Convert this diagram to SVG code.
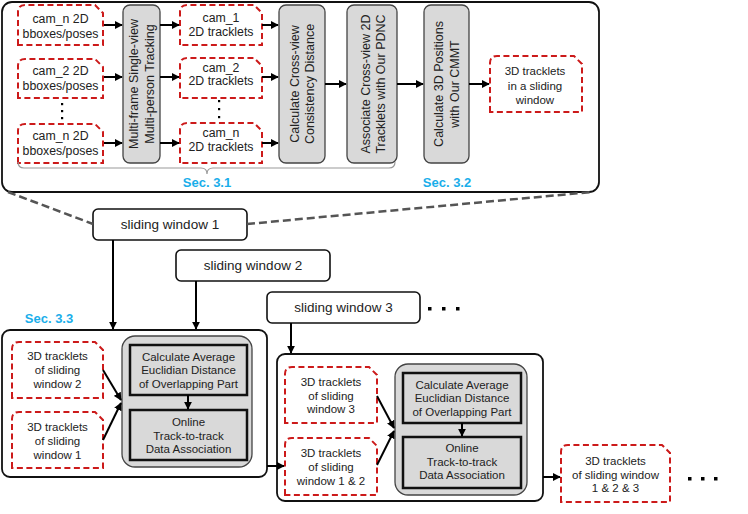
<svg xmlns="http://www.w3.org/2000/svg" width="748" height="514" viewBox="0 0 748 514">
<defs>
<marker id="ah" viewBox="0 0 10 10" refX="9" refY="5" markerWidth="4" markerHeight="4" orient="auto" markerUnits="strokeWidth">
<path d="M0,0 L10,5 L0,10 z" fill="#000"/>
</marker>
<style>
text{font-family:"Liberation Sans",Arial,sans-serif;fill:#222;text-anchor:middle;dominant-baseline:central}
.t12{font-size:12.3px}
.t11{font-size:11.5px}
.t13{font-size:13.5px}
.rot{font-size:12.5px}
.sec{font-size:13px;font-weight:bold;fill:#1aaeea}
.red{fill:#fff;stroke:#cc1a1a;stroke-width:2;stroke-dasharray:6,3.5}
.gray{fill:#d9d9d9;stroke:#444;stroke-width:1.3}
.inner{fill:#d9d9d9;stroke:#111;stroke-width:2.5}
.cont{fill:#fff;stroke:#111;stroke-width:1.8}
.sw{fill:#fff;stroke:#111;stroke-width:1.6}
.arr{stroke:#000;stroke-width:2;fill:none;marker-end:url(#ah)}
.dash{stroke:#555;stroke-width:2.5;stroke-dasharray:8,4;fill:none}
.brace{stroke:#999;stroke-width:1.2;fill:none}
</style>
</defs>

<!-- containers -->
<g id="stage1-container"><rect class="cont" x="2" y="2" width="597" height="190" rx="10"/></g>
<g id="stage2-container"><rect class="cont" x="2" y="330" width="265" height="147" rx="8"/></g>
<g id="stage3-container"><rect class="cont" x="277" y="354" width="266" height="147" rx="8"/></g>

<!-- input boxes -->
<g id="in1"><path class="red" d="M18,45 L18,12 Q18,5 25,5 L95,5 L103,13 L103,45 Z"/>
<text class="t12" x="60.5" y="19">cam_n 2D</text><text class="t12" x="60.5" y="34">bboxes/poses</text></g>
<g id="in2"><path class="red" d="M18,98 L18,66 Q18,59 25,59 L95,59 L103,67 L103,98 Z"/>
<text class="t12" x="60.5" y="71">cam_2 2D</text><text class="t12" x="60.5" y="86">bboxes/poses</text></g>
<g id="in3"><path class="red" d="M18,163 L18,131 Q18,124 25,124 L95,124 L103,132 L103,163 Z"/>
<text class="t12" x="60.5" y="136">cam_n 2D</text><text class="t12" x="60.5" y="151">bboxes/poses</text></g>
<g id="dots1" fill="#000"><rect x="61" y="103" width="2.2" height="2.2"/><rect x="61" y="110" width="2.2" height="2.2"/><rect x="61" y="117" width="2.2" height="2.2"/></g>

<!-- tracking -->
<g id="tracking"><rect class="gray" x="123" y="5" width="37" height="158" rx="7"/>
<g transform="translate(141.5,84) rotate(-90)"><text class="rot" x="0" y="-8">Multi-frame Single-view</text><text class="rot" x="0" y="8">Multi-person Tracking</text></g></g>

<!-- tracklet boxes -->
<g id="tr1"><path class="red" d="M180,45 L180,12 Q180,5 187,5 L254,5 L262,13 L262,45 Z"/>
<text class="t12" x="221" y="18">cam_1</text><text class="t12" x="221" y="32">2D tracklets</text></g>
<g id="tr2"><path class="red" d="M180,98 L180,65 Q180,58 187,58 L254,58 L262,66 L262,98 Z"/>
<text class="t12" x="221" y="68">cam_2</text><text class="t12" x="221" y="81">2D tracklets</text></g>
<g id="tr3"><path class="red" d="M180,163 L180,130 Q180,123 187,123 L254,123 L262,131 L262,163 Z"/>
<text class="t12" x="221" y="133">cam_n</text><text class="t12" x="221" y="147">2D tracklets</text></g>
<g id="dots2" fill="#000"><rect x="218" y="100" width="2.2" height="2.2"/><rect x="218" y="108" width="2.2" height="2.2"/><rect x="218" y="116" width="2.2" height="2.2"/></g>

<g id="crossview"><rect class="gray" x="279" y="5" width="46" height="158" rx="7"/>
<g transform="translate(302,84) rotate(-90)"><text class="rot" x="0" y="-7.5">Calculate Cross-view</text><text class="rot" x="0" y="7.5">Consistency Distance</text></g></g>
<g id="associate"><rect class="gray" x="347" y="5" width="50" height="158" rx="7"/>
<g transform="translate(373,84) rotate(-90)"><text class="rot" x="0" y="-7.5">Associate Cross-view 2D</text><text class="rot" x="0" y="7.5">Tracklets with Our PDNC</text></g></g>
<g id="calc3d"><rect class="gray" x="424" y="5" width="45" height="158" rx="7"/>
<g transform="translate(446.5,84) rotate(-90)"><text class="rot" x="0" y="-8">Calculate 3D Positions</text><text class="rot" x="0" y="8">with Our CMMT</text></g></g>

<g id="out3d"><path class="red" d="M490,112 L490,63 Q490,56 497,56 L574,56 L582,64 L582,112 Z"/>
<text class="t11" x="535" y="71">3D tracklets</text><text class="t11" x="535" y="86">in a sliding</text><text class="t11" x="535" y="100">window</text></g>

<g id="brace"><path class="brace" d="M18,162 Q18,168 24,168 L201,168 Q207,168 207,174 Q207,168 213,168 L389,168 Q395,168 395,162"/></g>
<text class="sec" x="207" y="182">Sec. 3.1</text>
<text class="sec" x="447" y="182">Sec. 3.2</text>
<text class="sec" x="49" y="318">Sec. 3.3</text>

<!-- sliding windows -->
<g id="sw1"><rect class="sw" x="93" y="209" width="154" height="31" rx="5"/><text class="t13" x="170" y="224.5">sliding window 1</text></g>
<g id="sw2"><rect class="sw" x="176" y="250" width="154" height="31" rx="5"/><text class="t13" x="253" y="265.5">sliding window 2</text></g>
<g id="sw3"><rect class="sw" x="267" y="292" width="153" height="31" rx="5"/><text class="t13" x="343.5" y="307.5">sliding window 3</text></g>
<g id="dots3" fill="#000"><rect x="428" y="307" width="3.5" height="3.5"/><rect x="442" y="307" width="3.5" height="3.5"/><rect x="456" y="307" width="3.5" height="3.5"/></g>

<!-- stage 2 -->
<g id="a2"><path class="red" d="M12,398 L12,349 Q12,342 19,342 L95,342 L103,350 L103,398 Z"/>
<text class="t11" x="57.5" y="356">3D tracklets</text><text class="t11" x="57.5" y="370">of sliding</text><text class="t11" x="57.5" y="384">window 2</text></g>
<g id="b2"><path class="red" d="M12,468 L12,419 Q12,412 19,412 L95,412 L103,420 L103,468 Z"/>
<text class="t11" x="57.5" y="427">3D tracklets</text><text class="t11" x="57.5" y="441">of sliding</text><text class="t11" x="57.5" y="455">window 1</text></g>
<g id="assoc2"><rect class="gray" x="122" y="336" width="130" height="131" rx="13"/>
<rect class="inner" x="130" y="345" width="117" height="50"/>
<text class="t11" x="188.5" y="357">Calculate Average</text><text class="t11" x="188.5" y="370">Euclidian Distance</text><text class="t11" x="188.5" y="384">of Overlapping Part</text>
<rect class="inner" x="130" y="410" width="117" height="50"/>
<text class="t11" x="188.5" y="422">Online</text><text class="t11" x="188.5" y="436">Track-to-track</text><text class="t11" x="188.5" y="449">Data Association</text></g>

<!-- stage 3 -->
<g id="a3"><path class="red" d="M285,423 L285,374 Q285,367 292,367 L369,367 L377,375 L377,423 Z"/>
<text class="t11" x="331" y="382">3D tracklets</text><text class="t11" x="331" y="396">of sliding</text><text class="t11" x="331" y="409">window 3</text></g>
<g id="b3"><path class="red" d="M285,495 L285,445 Q285,438 292,438 L369,438 L377,446 L377,495 Z"/>
<text class="t11" x="331" y="453">3D tracklets</text><text class="t11" x="331" y="467">of sliding</text><text class="t11" x="331" y="481">window 1 &amp; 2</text></g>
<g id="assoc3"><rect class="gray" x="395" y="364" width="132" height="131" rx="13"/>
<rect class="inner" x="403" y="373" width="118" height="50"/>
<text class="t11" x="462" y="385">Calculate Average</text><text class="t11" x="462" y="398">Euclidian Distance</text><text class="t11" x="462" y="412">of Overlapping Part</text>
<rect class="inner" x="403" y="437" width="118" height="51"/>
<text class="t11" x="462" y="448">Online</text><text class="t11" x="462" y="462">Track-to-track</text><text class="t11" x="462" y="475">Data Association</text></g>

<g id="out123"><path class="red" d="M561,502 L561,452 Q561,445 568,445 L662,445 L670,453 L670,502 Z"/>
<text class="t11" x="615.5" y="461">3D tracklets</text><text class="t11" x="615.5" y="475">of sliding window</text><text class="t11" x="615.5" y="488">1 &amp; 2 &amp; 3</text></g>
<g id="dots4" fill="#000"><rect x="688" y="477" width="3.5" height="3.5"/><rect x="701" y="477" width="3.5" height="3.5"/><rect x="714" y="477" width="3.5" height="3.5"/></g>

<!-- connectors -->
<g id="connectors">
<line class="arr" x1="104" y1="25" x2="122" y2="25"/>
<line class="arr" x1="104" y1="77" x2="122" y2="77"/>
<line class="arr" x1="104" y1="143" x2="122" y2="143"/>
<line class="arr" x1="160" y1="25" x2="179" y2="25"/>
<line class="arr" x1="160" y1="77" x2="179" y2="77"/>
<line class="arr" x1="160" y1="143" x2="179" y2="143"/>
<line class="arr" x1="262" y1="25" x2="278" y2="25"/>
<line class="arr" x1="262" y1="77" x2="278" y2="77"/>
<line class="arr" x1="262" y1="143" x2="278" y2="143"/>
<line class="arr" x1="325" y1="84" x2="346" y2="84"/>
<line class="arr" x1="397" y1="84" x2="423" y2="84"/>
<line class="arr" x1="469" y1="84" x2="489" y2="84"/>
<line class="dash" x1="8" y1="192" x2="93" y2="224"/>
<line class="dash" x1="247" y1="224" x2="592" y2="192"/>
<line class="arr" x1="113" y1="240" x2="113" y2="329"/>
<line class="arr" x1="196" y1="281" x2="196" y2="329"/>
<line class="arr" x1="291" y1="323" x2="291" y2="353"/>
<line class="arr" x1="103" y1="370" x2="121" y2="400"/>
<line class="arr" x1="103" y1="440" x2="121" y2="403"/>
<line class="arr" x1="188" y1="395" x2="188" y2="409"/>
<line class="arr" x1="267" y1="466" x2="284" y2="466"/>
<line class="arr" x1="377" y1="396" x2="394" y2="428"/>
<line class="arr" x1="377" y1="465" x2="394" y2="431"/>
<line class="arr" x1="462" y1="423" x2="462" y2="436"/>
<line class="arr" x1="543" y1="477" x2="560" y2="477"/>
</g>
</svg>
